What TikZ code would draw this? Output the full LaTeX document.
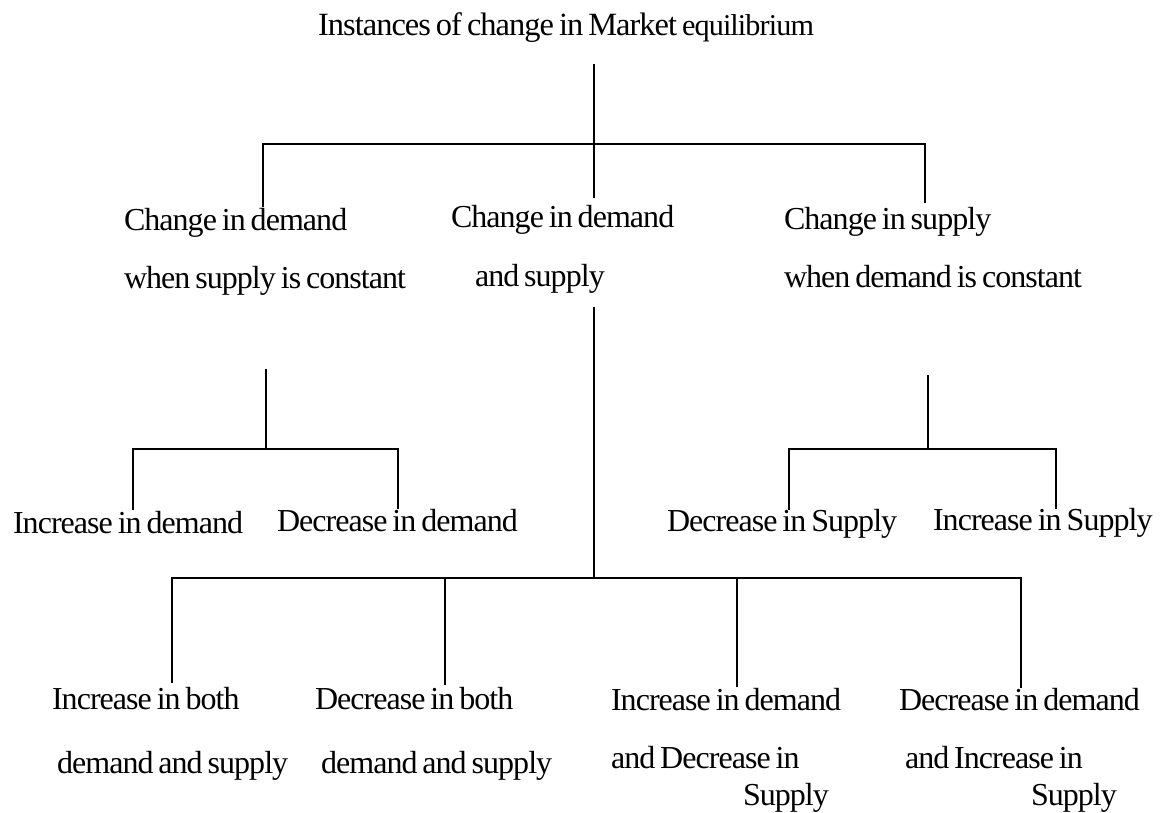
\documentclass[tikz,border=0pt]{standalone}
\usepackage{fontspec}
\setmainfont{Liberation Serif}[LetterSpace=-3,WordSpace=0.7]
\begin{document}
\begin{tikzpicture}[x=1pt,y=-1pt,
  lbl/.style={anchor=base west,inner sep=0pt,outer sep=0pt,font=\fontsize{32}{38}\selectfont},
  conn/.style={line width=2pt,line cap=rect},
  bar/.style={line width=2.4pt}]
\useasboundingbox[fill=white] (0,0) rectangle (1162,812);

% texts
\node[lbl,font=\fontsize{32.45}{38}\selectfont] (title) at (318,35) {Instances of change in Market {\fontsize{30.2}{36}\selectfont equilibrium}};
\node[lbl] (a1) at (124,230) {Change in demand};
\node[lbl] (a2) at (124,288) {when supply is constant};
\node[lbl] (b1) at (451,227) {Change in demand};
\node[lbl] (b2) at (475,286) {and supply};
\node[lbl] (c1) at (784,229) {Change in supply};
\node[lbl] (c2) at (784,287) {when demand is constant};
\node[lbl] (a11) at (13,533) {Increase in demand};
\node[lbl] (a21) at (277,531) {Decrease in demand};
\node[lbl] (c11) at (667,531) {Decrease in Supply};
\node[lbl] (c21) at (933,530) {Increase in Supply};
\node[lbl] (d1) at (52,709) {Increase in both};
\node[lbl] (d2) at (57,773) {demand and supply};
\node[lbl] (e1) at (315,709) {Decrease in both};
\node[lbl] (e2) at (321,773) {demand and supply};
\node[lbl] (f1) at (611,710) {Increase in demand};
\node[lbl] (f2) at (611,768) {and Decrease in};
\node[lbl] (f3) at (743,805) {Supply};
\node[lbl] (g1) at (899,710) {Decrease in demand};
\node[lbl] (g2) at (905,768) {and Increase in};
\node[lbl] (g3) at (1031,805) {Supply};

% junction coordinates
\coordinate (t0) at (594,65);
\coordinate (t1) at (594,144);
\coordinate (tl) at (263,144);
\coordinate (tr) at (925,144);
\coordinate (ae) at (263,206);
\coordinate (be) at (594,197);
\coordinate (ce) at (925,202);
\coordinate (bs) at (594,308);
\coordinate (bj) at (594,578);
\coordinate (as) at (266,370);
\coordinate (aj) at (266,449);
\coordinate (ajl) at (133,449);
\coordinate (ajr) at (398,449);
\coordinate (a1e) at (133,509);
\coordinate (a2e) at (398,508);
\coordinate (cs) at (928,376);
\coordinate (cj) at (928,449);
\coordinate (cjl) at (789,449);
\coordinate (cjr) at (1056,449);
\coordinate (c1e) at (789,509);
\coordinate (c2e) at (1056,508);
\coordinate (bl) at (172,578);
\coordinate (bd2) at (445,578);
\coordinate (bd3) at (737,578);
\coordinate (br) at (1021,578);
\coordinate (de) at (172,682);
\coordinate (ee) at (445,684);
\coordinate (fe) at (737,686);
\coordinate (ge) at (1021,687);

% connectors
\draw[conn] (t0) -- (t1);
\draw[bar] (tl) -- (tr);
\draw[conn] (tl) -- (ae);
\draw[conn] (t1) -- (be);
\draw[conn] (tr) -- (ce);
\draw[conn] (bs) -- (bj);
\draw[conn] (as) -- (aj);
\draw[bar] (ajl) -- (ajr);
\draw[conn] (ajl) -- (a1e);
\draw[conn] (ajr) -- (a2e);
\draw[conn] (cs) -- (cj);
\draw[bar] (cjl) -- (cjr);
\draw[conn] (cjl) -- (c1e);
\draw[conn] (cjr) -- (c2e);
\draw[bar] (bl) -- (br);
\draw[conn] (bl) -- (de);
\draw[conn] (bd2) -- (ee);
\draw[conn] (bd3) -- (fe);
\draw[conn] (br) -- (ge);
\end{tikzpicture}
\end{document}
